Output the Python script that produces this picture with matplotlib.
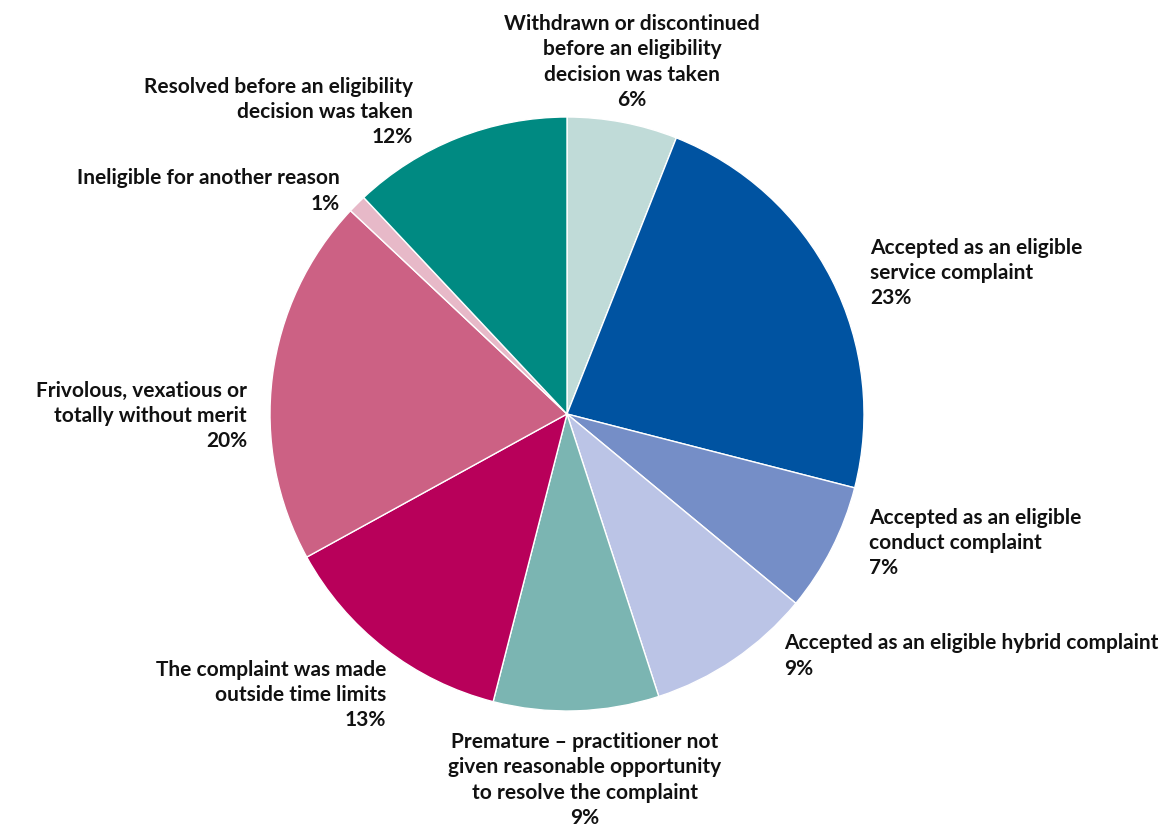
import matplotlib
matplotlib.use("Agg")
import matplotlib.pyplot as plt

categories = [
    "Withdrawn or discontinued\nbefore an eligibility\ndecision was taken",
    "Accepted as an eligible\nservice complaint",
    "Accepted as an eligible\nconduct complaint",
    "Accepted as an eligible hybrid complaint",
    "Premature \u2013 practitioner not\ngiven reasonable opportunity\nto resolve the complaint",
    "The complaint was made\noutside time limits",
    "Frivolous, vexatious or\ntotally without merit",
    "Ineligible for another reason",
    "Resolved before an eligibility\ndecision was taken",
]
shares = [6, 23, 7, 9, 9, 13, 20, 1, 12]
colors = ["#c0dbd8", "#0053a1", "#758ec7", "#bbc4e6", "#7bb5b2",
          "#b8005a", "#cc6184", "#e7b9c8", "#008a82"]

W, H = 1160, 828
cx, cy, r = 567, 415, 297

fig = plt.figure(figsize=(W / 100, H / 100), dpi=100)
ax = fig.add_axes([(cx - r) / W, (H - cy - r) / H, 2 * r / W, 2 * r / H])
ax.pie(shares, colors=colors, startangle=90, counterclock=False,
       radius=1.0, wedgeprops=dict(edgecolor="white", linewidth=1.0))
ax.set_xlim(-1, 1)
ax.set_ylim(-1, 1)
ax.set_aspect("equal")
ax.axis("off")

# label anchor positions (pixels) and alignment
label_pos = [
    (632, 62, "center"),
    (870, 273, "left"),
    (869, 543, "left"),
    (784, 656, "left"),
    (585, 780, "center"),
    (386, 695, "right"),
    (247, 416, "right"),
    (340, 191, "right"),
    (413, 112, "right"),
]

for cat, val, (px, py, ha) in zip(categories, shares, label_pos):
    fig.text(px / W, 1 - py / H, f"{cat}\n{val}%", ha=ha, va="center",
             multialignment=ha, fontsize=15.0, fontweight="bold",
             family=["Lato", "DejaVu Sans"], color="#111111",
             linespacing=1.32)

fig.savefig("out.png", dpi=100, facecolor="white")
